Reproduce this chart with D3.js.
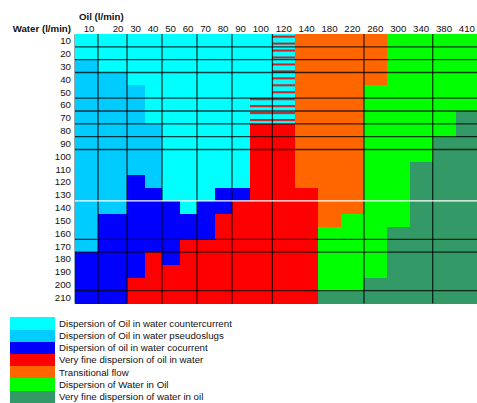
<!DOCTYPE html>
<html>
<head>
<meta charset="utf-8">
<script src="https://cdn.jsdelivr.net/npm/d3@7"></script>
<style>
  html, body { margin: 0; padding: 0; background: #fff; }
  svg { display: block; }
  text { font-family: "Liberation Sans", Arial, sans-serif; fill: #111; }
</style>
</head>
<body>
<svg id="chart" width="477" height="403"></svg>
<script>
// Oil flow rates (columns) and water flow rates (rows), l/min
const oilRates = ["10", "20", "30", "40", "50", "60", "70", "80", "90", "100",
                  "120", "140", "180", "220", "260", "300", "340", "380", "410"];
const waterRates = [10, 20, 30, 40, 50, 60, 70, 80, 90, 100, 110,
                    120, 130, 140, 150, 160, 170, 180, 190, 200, 210];

// Flow regimes, in legend order, and the one-letter code used in the map
const regimeCodes = ["C", "P", "B", "R", "T", "G", "D"];
const regimeLabels = [
  "Dispersion of Oil in water countercurrent",
  "Dispersion of Oil in water pseudoslugs",
  "Dispersion of oil in water cocurrent",
  "Very fine dispersion of oil in water",
  "Transitional flow",
  "Dispersion of Water in Oil",
  "Very fine dispersion of water in oil"
];
// "X" marks cells where countercurrent dispersion alternates with very fine dispersion

// Observed regime per water rate (row) and oil rate (one character per column)
const regimeMap = [
  "CCCCCCCCCCXTTTTGGGG", // 10
  "CCCCCCCCCCXTTTTGGGG", // 20
  "PCCCCCCCCCXTTTTGGGG", // 30
  "PPCCCCCCCCXTTTTGGGG", // 40
  "PPPCCCCCCCXTTTGGGGG", // 50
  "PPPCCCCCCXXTTTGGGGG", // 60
  "PPPCCCCCCXXTTTGGGGD", // 70
  "PPPPCCCCCRRTTTGGGGD", // 80
  "PPPPCCCCCRRTTTGGGDD", // 90
  "PPPPCCCCCRRTTTGGGDD", // 100
  "PPPPCCCCCRRTTTGGDDD", // 110
  "PPBPCCCCCRRTTTGGDDD", // 120
  "PPBBCCCBBRRRTTGGDDD", // 130
  "PPBBBCBBRRRRTTGGDDD", // 140
  "PBBBBBBRRRRRTGGGDDD", // 150
  "PBBBBBBRRRRRGGGDDDD", // 160
  "PBBBBRRRRRRRGGGDDDD", // 170
  "BBBRBRRRRRRRGGGDDDD", // 180
  "BBBRRRRRRRRRGGGDDDD", // 190
  "BBRRRRRRRRRRGGDDDDD", // 200
  "BBRRRRRRRRRRDDDDDDD"  // 210
];

// Rule lines drawn after these columns / rows
const ruleAfterOil = ["10", "20", "40", "60", "80", "100", "220", "340"];
const ruleAfterWater = [10, 20, 30, 50, 60, 70, 80, 90, 160, 170, 200];
const lightRuleAfterWater = [130];

// ---- styling & layout ----
const palette = {
  C: "#00ffff", P: "#00ccff", B: "#0000ff", R: "#ff0000",
  T: "#ff6600", G: "#00ff00", D: "#339966"
};
const stripeColor = "#ff0000";
const colWidths = oilRates.map((d, i) =>
  i === 0 ? 23 : i === 1 ? 29 : d.length === 2 ? 17.5 : 22.9);
const gridLeft = 75, gridTop = 34, gridBottom = 303.5;

const svg = d3.select("#chart");

// column edges via cumulative width on a linear scale
const colStart = [0];
colWidths.forEach((w, i) => colStart.push(colStart[i] + w));
const x = d3.scaleLinear()
  .domain([0, colStart[colStart.length - 1]])
  .range([gridLeft, gridLeft + colStart[colStart.length - 1]]);
const colIndex = d3.scaleOrdinal().domain(oilRates).range(d3.range(oilRates.length));
const xLeft = d => x(colStart[colIndex(d)]);
const xRight = d => x(colStart[colIndex(d) + 1]);

const y = d3.scaleBand().domain(waterRates).range([gridTop, gridBottom]);

// hatch pattern for mixed cells
const defs = svg.append("defs");
const hatch = defs.append("pattern")
  .attr("id", "hatch")
  .attr("patternUnits", "userSpaceOnUse")
  .attr("x", 0).attr("y", gridTop + 1.7)
  .attr("width", 20).attr("height", 6.95);
hatch.append("rect").attr("width", 20).attr("height", 6.95).attr("fill", palette.C);
hatch.append("rect").attr("y", 0).attr("width", 20).attr("height", 1.8).attr("fill", stripeColor);
hatch.append("rect").attr("y", 0).attr("width", 20).attr("height", 0.5)
  .attr("fill", "#7a3030").attr("opacity", 0.6);

// cells
const cells = [];
waterRates.forEach((w, ri) => {
  oilRates.forEach((o, ci) => {
    cells.push({ water: w, oil: o, code: regimeMap[ri][ci] });
  });
});

svg.append("g").attr("class", "cells")
  .attr("shape-rendering", "crispEdges")
  .selectAll("rect")
  .data(cells)
  .join("rect")
  .attr("x", d => xLeft(d.oil))
  .attr("y", d => y(d.water))
  .attr("width", d => xRight(d.oil) - xLeft(d.oil) + 0.4)
  .attr("height", y.bandwidth() + 0.4)
  .attr("fill", d => d.code === "X" ? "url(#hatch)" : palette[d.code]);

// rule lines
const rules = svg.append("g").attr("class", "rules");
rules.selectAll("line.v")
  .data(ruleAfterOil)
  .join("line")
  .attr("class", "v")
  .attr("x1", d => xRight(d)).attr("x2", d => xRight(d))
  .attr("y1", gridTop).attr("y2", gridBottom)
  .attr("stroke", "#000").attr("stroke-opacity", 0.75).attr("stroke-width", 1.3);
rules.selectAll("line.h")
  .data(ruleAfterWater)
  .join("line")
  .attr("class", "h")
  .attr("x1", gridLeft).attr("x2", xRight(oilRates[oilRates.length - 1]))
  .attr("y1", d => y(d) + y.bandwidth()).attr("y2", d => y(d) + y.bandwidth())
  .attr("stroke", "#000").attr("stroke-opacity", 0.75).attr("stroke-width", 1.3);
rules.selectAll("line.w")
  .data(lightRuleAfterWater)
  .join("line")
  .attr("class", "w")
  .attr("x1", gridLeft).attr("x2", xRight(oilRates[oilRates.length - 1]))
  .attr("y1", d => y(d) + y.bandwidth()).attr("y2", d => y(d) + y.bandwidth())
  .attr("stroke", "#fff").attr("stroke-width", 1.2);

// faint left edge of the grid
svg.append("line")
  .attr("x1", gridLeft - 0.5).attr("x2", gridLeft - 0.5)
  .attr("y1", gridTop).attr("y2", gridBottom)
  .attr("stroke", "#9aa").attr("stroke-width", 1);

// axis titles
svg.append("text")
  .attr("x", 79).attr("y", 19.5)
  .attr("font-size", 9.7).attr("font-weight", "bold")
  .text("Oil (l/min)");
svg.append("text")
  .attr("x", 71).attr("y", 31.5)
  .attr("text-anchor", "end")
  .attr("font-size", 9.7).attr("font-weight", "bold")
  .text("Water (l/min)");

// column labels, right-aligned in each column
svg.append("g").selectAll("text")
  .data(oilRates)
  .join("text")
  .attr("x", d => xRight(d) - 3.5)
  .attr("y", 31.5)
  .attr("text-anchor", "end")
  .attr("font-size", 9.7)
  .text(d => d);

// row labels
svg.append("g").selectAll("text")
  .data(waterRates)
  .join("text")
  .attr("x", 71)
  .attr("y", d => y(d) + y.bandwidth() / 2 + 3.8)
  .attr("text-anchor", "end")
  .attr("font-size", 9.7)
  .text(d => d);

// legend
const legendY = d3.scaleBand().domain(regimeCodes).range([317.3, 317.3 + 12.2 * 7]);
const legend = svg.append("g").attr("class", "legend");
legend.selectAll("rect")
  .data(regimeCodes)
  .join("rect")
  .attr("shape-rendering", "crispEdges")
  .attr("x", 10).attr("y", d => legendY(d))
  .attr("width", 45).attr("height", legendY.bandwidth() + 0.3)
  .attr("fill", d => palette[d]);
legend.selectAll("text")
  .data(regimeCodes)
  .join("text")
  .attr("x", 59)
  .attr("y", d => legendY(d) + legendY.bandwidth() / 2 + 3.4)
  .attr("font-size", 9.7)
  .attr("fill", "#222")
  .text((d, i) => regimeLabels[i]);
</script>
</body>
</html>
